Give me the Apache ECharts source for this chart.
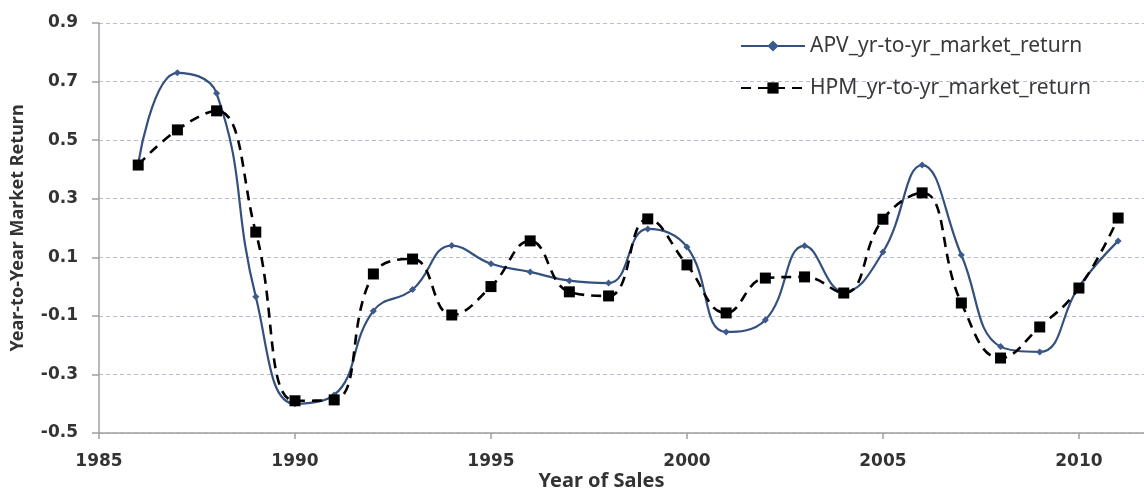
<!DOCTYPE html>
<html>
<head>
<meta charset="utf-8">
<script src="https://cdn.jsdelivr.net/npm/echarts@6/dist/echarts.min.js"></script>
<style>
html,body{margin:0;padding:0;background:#fff;}
#c{width:1144px;height:492px;}
</style>
</head>
<body>
<div id="c"></div>
<script>
var years = [1986,1987,1988,1989,1990,1991,1992,1993,1994,1995,1996,1997,1998,1999,2000,2001,2002,2003,2004,2005,2006,2007,2008,2009,2010,2011];
var apvReturn = [0.42,0.73,0.66,-0.035,-0.40,-0.37,-0.083,-0.01,0.14,0.078,0.05,0.02,0.012,0.197,0.135,-0.155,-0.114,0.139,-0.018,0.118,0.415,0.108,-0.205,-0.223,0.0,0.156];
var hpmReturn = [0.415,0.535,0.60,0.186,-0.39,-0.387,0.043,0.094,-0.097,0.0,0.156,-0.018,-0.032,0.231,0.074,-0.09,0.029,0.033,-0.022,0.23,0.32,-0.056,-0.244,-0.138,-0.005,0.234];
var yTicks = [-0.5,-0.3,-0.1,0.1,0.3,0.5,0.7,0.9];
var xTicks = [1985,1990,1995,2000,2005,2010];
var seriesNames = ['APV_yr-to-yr_market_return','HPM_yr-to-yr_market_return'];

function pairs(v){ return years.map(function(y,i){ return [y, v[i]]; }); }

var chart = echarts.init(document.getElementById('c'), null, {renderer:'canvas'});
var option = {
  backgroundColor:'#ffffff',
  animation:false,
  grid:{left:99, top:23, right:0, bottom:59, containLabel:false, outerBoundsMode:'none'},
  legend:{
    orient:'vertical', left:740, top:35, padding:0, itemWidth:64, itemHeight:14, itemGap:20,
    data:seriesNames,
    textStyle:{fontFamily:'Noto Sans', fontSize:21, lineHeight:22, color:'#3a3a3a'}
  },
  xAxis:{
    type:'value', min:1985, max:2011.66, interval:5,
    name:'Year of Sales', nameLocation:'middle', nameGap:38, nameMoveOverlap:false,
    nameTextStyle:{fontFamily:'Noto Sans', fontWeight:'bold', fontSize:20, color:'#333', padding:[0,40,0,0]},
    axisLine:{show:true, onZero:false, lineStyle:{color:'#a0a0a0', width:1.5}},
    axisTick:{show:true, length:6, customValues:xTicks, lineStyle:{color:'#a0a0a0', width:1.5}},
    axisLabel:{fontFamily:'DejaVu Sans', fontWeight:'bold', fontSize:17, color:'#333', margin:20, customValues:xTicks,
      formatter:function(v){ return String(v); }},
    splitLine:{show:false}
  },
  yAxis:{
    type:'value', min:-0.5, max:0.9, interval:0.2,
    name:'Year-to-Year Market Return', nameLocation:'middle', nameGap:72, nameRotate:90, nameMoveOverlap:false,
    nameTextStyle:{fontFamily:'Noto Sans', fontWeight:'bold', fontSize:18, color:'#333'},
    axisLine:{show:true, onZero:false, lineStyle:{color:'#a0a0a0', width:1.5}},
    axisTick:{show:true, length:7, lineStyle:{color:'#a0a0a0', width:1.5}},
    axisLabel:{fontFamily:'DejaVu Sans', fontWeight:'bold', fontSize:17, color:'#333', margin:21,
      formatter:function(v){ return (Math.round(v*10)/10).toFixed(1); }},
    splitLine:{show:true, lineStyle:{color:'#b8bfcc', width:1, type:[4,3]}}
  },
  series:[
    {
      name:seriesNames[0], type:'line', data:pairs(apvReturn), smooth:0.45,
      symbol:'diamond', symbolSize:7, z:2,
      lineStyle:{color:'#34507e', width:2.2},
      itemStyle:{color:'#3d5a8c'}
    },
    {
      name:seriesNames[1], type:'line', data:pairs(hpmReturn), smooth:0.45,
      symbol:'rect', symbolSize:11, z:3,
      lineStyle:{color:'#000000', width:2.6, type:[10,7]},
      itemStyle:{color:'#000000'}
    }
  ]
};
chart.setOption(option);
</script>
</body>
</html>
